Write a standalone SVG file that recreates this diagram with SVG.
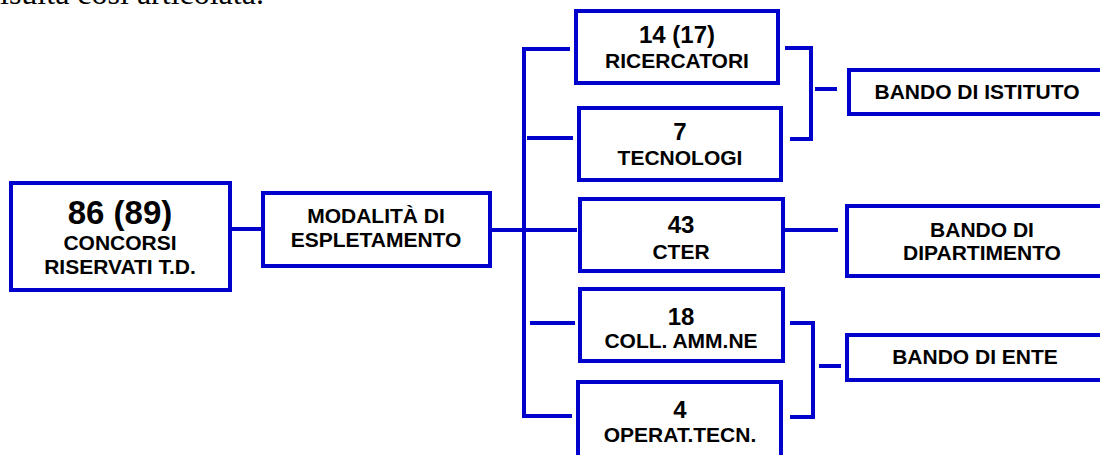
<svg xmlns="http://www.w3.org/2000/svg" width="1100" height="455" viewBox="0 0 1100 455">
<style>
.box{fill:#fff;stroke:#0000cc;stroke-width:4}
.ln{fill:none;stroke:#0000cc;stroke-width:4}
text{font-family:"Liberation Sans",Arial,sans-serif;font-weight:bold;fill:#000;text-anchor:middle}
.lb{font-size:21px}
.nm{font-size:24px}
.big{font-size:33px}
.intro{font-family:"Liberation Serif","Times New Roman",serif;font-weight:normal;font-size:32px;text-anchor:start}
</style>
<rect width="1100" height="455" fill="#fff"/>
<text class="intro" x="0" y="4">isulta così articolata.</text>
<g id="connectors">
<path class="ln" d="M232,229H261"/>
<path class="ln" d="M492,230H577"/>
<path class="ln" d="M524,47V418"/>
<path class="ln" d="M524,49H570"/>
<path class="ln" d="M527,138H573"/>
<path class="ln" d="M530,323H575"/>
<path class="ln" d="M524,416H572"/>
<path class="ln" d="M785,48H811V139H790"/>
<path class="ln" d="M815,89H837"/>
<path class="ln" d="M785,230H838"/>
<path class="ln" d="M790,323H813V417H790"/>
<path class="ln" d="M819,366H841"/>
</g>
<g id="n-concorsi">
<rect class="box" x="11" y="183" width="219" height="107"/>
<text class="big" x="120" y="224">86 (89)</text>
<text class="lb" x="120" y="250">CONCORSI</text>
<text class="lb" x="120" y="274">RISERVATI T.D.</text>
</g>
<g id="n-modalita">
<rect class="box" x="263" y="193" width="227" height="73"/>
<text class="lb" x="376" y="223">MODALITÀ DI</text>
<text class="lb" x="376" y="247">ESPLETAMENTO</text>
</g>
<g id="n-ricercatori">
<rect class="box" x="576" y="11" width="202" height="72"/>
<text class="nm" x="677" y="43">14 (17)</text>
<text class="lb" x="677" y="68">RICERCATORI</text>
</g>
<g id="n-tecnologi">
<rect class="box" x="579" y="108" width="202" height="72"/>
<text class="nm" x="680" y="140">7</text>
<text class="lb" x="680" y="165">TECNOLOGI</text>
</g>
<g id="n-cter">
<rect class="box" x="580" y="199" width="203" height="72"/>
<text class="nm" x="681" y="233">43</text>
<text class="lb" x="681" y="259">CTER</text>
</g>
<g id="n-coll">
<rect class="box" x="580" y="289" width="203" height="72"/>
<text class="nm" x="681" y="325">18</text>
<text class="lb" x="681" y="348">COLL. AMM.NE</text>
</g>
<g id="n-operat">
<rect class="box" x="578" y="382" width="203" height="90"/>
<text class="nm" x="680" y="418">4</text>
<text class="lb" x="680" y="442">OPERAT.TECN.</text>
</g>
<g id="n-istituto">
<rect class="box" x="849" y="70" width="262" height="44"/>
<text class="lb" x="977" y="99">BANDO DI ISTITUTO</text>
</g>
<g id="n-dipartimento">
<rect class="box" x="847" y="206" width="265" height="70"/>
<text class="lb" x="982" y="237">BANDO DI</text>
<text class="lb" x="982" y="260">DIPARTIMENTO</text>
</g>
<g id="n-ente">
<rect class="box" x="847" y="335" width="265" height="45"/>
<text class="lb" x="975" y="364">BANDO DI ENTE</text>
</g>
</svg>
